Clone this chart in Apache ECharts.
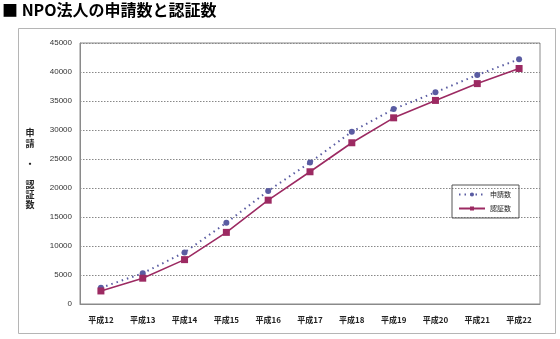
<!DOCTYPE html>
<html><head><meta charset="utf-8">
<script src="https://cdn.jsdelivr.net/npm/echarts@6/dist/echarts.min.js"></script>
<style>html,body{margin:0;padding:0;background:#fff}#c{width:560px;height:339px}</style>
</head><body><div id="c"></div>
<script>
const categories = ['平成12','平成13','平成14','平成15','平成16','平成17','平成18','平成19','平成20','平成21','平成22'];
const applications = [2800, 5300, 8900, 14000, 19500, 24400, 29700, 33600, 36500, 39500, 42200];
const certifications = [2250, 4450, 7650, 12350, 17900, 22800, 27800, 32100, 35100, 38000, 40600];
const seriesNames = ['申請数', '認証数'];
const yMin = 0, yMax = 45000, yStep = 5000;

const chart = echarts.init(document.getElementById('c'), null, {renderer: 'canvas'});
const font = '"Noto Sans CJK JP", sans-serif';
chart.setOption({
  animation: false,
  backgroundColor: '#fff',
  textStyle: {fontFamily: font},
  grid: {left: 80, right: 20, top: 43, bottom: 35, show: true, borderColor: '#8a8a8a', borderWidth: 1},
  xAxis: {
    type: 'category', data: categories, boundaryGap: true,
    axisLine: {show: true, lineStyle: {color: '#8a8a8a'}},
    axisTick: {show: false},
    axisLabel: {color: '#222', fontSize: 8, fontWeight: 'bold', margin: 12, fontFamily: font}
  },
  yAxis: {
    type: 'value', min: yMin, max: yMax, interval: yStep,
    axisLine: {show: true, lineStyle: {color: '#8a8a8a'}},
    axisTick: {show: false},
    axisLabel: {color: '#333', fontSize: 8, margin: 8, fontFamily: 'Liberation Sans, Arial, sans-serif',
      formatter: v => String(v)},
    splitLine: {show: true, lineStyle: {color: '#888', type: [1.5, 1.5], width: 1}}
  },
  legend: {
    orient: 'vertical', left: 452, top: 185, width: 65,
    borderColor: '#555', borderWidth: 1, padding: [6, 8, 6, 6],
    itemGap: 7, itemWidth: 26, itemHeight: 5,
    textStyle: {fontSize: 7, color: '#222', fontFamily: font},
    data: seriesNames
  },
  series: [
    {
      name: seriesNames[0], type: 'line', data: applications,
      symbol: 'circle', symbolSize: 6,
      lineStyle: {color: '#5a5ca2', width: 2, type: [1.5, 4]},
      itemStyle: {color: '#5a5ca2'}, z: 3
    },
    {
      name: seriesNames[1], type: 'line', data: certifications,
      symbol: 'rect', symbolSize: 7,
      lineStyle: {color: '#9c2a62', width: 1.6, type: 'solid'},
      itemStyle: {color: '#9c2a62'}, z: 4
    }
  ],
  graphic: [
    {type: 'rect', shape: {x: 18.5, y: 28.5, width: 537, height: 305},
     style: {fill: null, stroke: '#b5b5b5', lineWidth: 1}, z: -1},
    {type: 'text', left: 2, top: 2,
     style: {text: '■ NPO法人の申請数と認証数', fontSize: 16, fontWeight: 'bold', fill: '#000', fontFamily: font}},
    {type: 'text', x: 30, y: 169,
     style: {text: '申\n請\n\n・\n\n認\n証\n数', fontSize: 9, fontWeight: 'bold', lineHeight: 10.3,
       fill: '#222', align: 'center', verticalAlign: 'middle', fontFamily: font}}
  ]
});
</script></body></html>
